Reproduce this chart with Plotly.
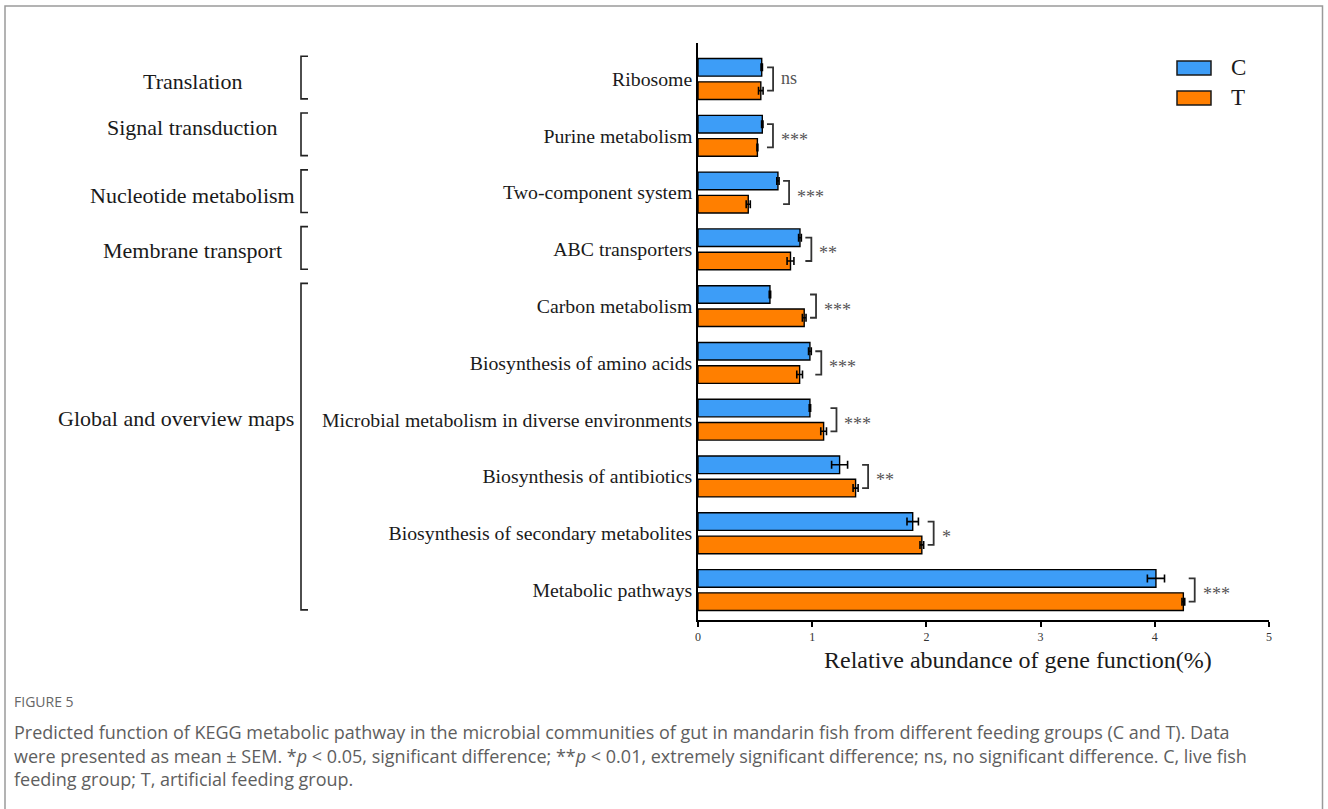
import plotly.graph_objects as go

# KEGG level-3 pathways, listed top to bottom
categories = [
    "Ribosome",
    "Purine metabolism",
    "Two-component system",
    "ABC transporters",
    "Carbon metabolism",
    "Biosynthesis of amino acids",
    "Microbial metabolism in diverse environments",
    "Biosynthesis of antibiotics",
    "Biosynthesis of secondary metabolites",
    "Metabolic pathways",
]
c_mean = [0.558, 0.563, 0.70, 0.893, 0.63, 0.98, 0.98, 1.24, 1.88, 4.01]
c_sem = [0.006, 0.006, 0.01, 0.012, 0.006, 0.012, 0.006, 0.07, 0.05, 0.075]
t_mean = [0.55, 0.52, 0.44, 0.81, 0.93, 0.89, 1.10, 1.38, 1.96, 4.25]
t_sem = [0.02, 0.004, 0.018, 0.03, 0.016, 0.025, 0.025, 0.022, 0.016, 0.012]
significance = ["ns", "***", "***", "**", "***", "***", "***", "**", "*", "***"]

# KEGG level-2 groups: (label, first pathway, last pathway, pathway the label sits beside)
groups = [
    ("Translation", "Ribosome", "Ribosome", "Ribosome"),
    ("Signal transduction", "Purine metabolism", "Purine metabolism", "Purine metabolism"),
    ("Nucleotide metabolism", "Two-component system", "Two-component system", "Two-component system"),
    ("Membrane transport", "ABC transporters", "ABC transporters", "ABC transporters"),
    ("Global and overview maps", "Carbon metabolism", "Metabolic pathways",
     "Microbial metabolism in diverse environments"),
]
group_label_shift = [-2, 8, -3, -1, 1]
tick_values = [0, 1, 2, 3, 4, 5]
legend_names = ["C", "T"]

BLUE = "#3d9df7"
ORANGE = "#ff7f00"
SERIF = "Liberation Serif, Times New Roman, serif"
SANS = "Open Sans, Lato, sans-serif"

W, H = 1328, 809
L, R, T, B = 698, 1269, 43, 620

n = len(categories)
ypos = {cat: n - 1 - i for i, cat in enumerate(categories)}
yvals = [ypos[c] for c in categories]


def px_x(px):
    return (px - L) / (R - L)


def px_y(py):
    return (B - py) / (B - T)


fig = go.Figure()
fig.add_trace(go.Bar(
    name="C", orientation="h", y=yvals, x=c_mean, width=0.31, offset=0.05,
    marker=dict(color=BLUE, line=dict(color="black", width=1.4)),
    error_x=dict(type="data", array=c_sem, visible=True, color="black", thickness=1.6, width=4),
    showlegend=False,
))
fig.add_trace(go.Bar(
    name="T", orientation="h", y=yvals, x=t_mean, width=0.31, offset=-0.36,
    marker=dict(color=ORANGE, line=dict(color="black", width=1.4)),
    error_x=dict(type="data", array=t_sem, visible=True, color="black", thickness=1.6, width=4),
    showlegend=False,
))

shapes = []
annotations = []

# significance brackets beside each pair of bars
for cat, cm, ce, tm, te, sig in zip(categories, c_mean, c_sem, t_mean, t_sem, significance):
    y = ypos[cat]
    edge = max(cm + ce, tm + te)
    shapes.append(dict(
        type="path", xref="x", yref="y", xsizemode="pixel", xanchor=edge,
        path=f"M 4,{y + 0.205} L 10,{y + 0.205} L 10,{y - 0.205} L 4,{y - 0.205}",
        line=dict(color="#333333", width=1.8),
    ))
    is_star = sig.startswith("*")
    annotations.append(dict(
        x=edge, y=y, xref="x", yref="y", xanchor="left", yanchor="middle",
        xshift=16, yshift=-4 if is_star else 1, text=sig, showarrow=False,
        font=dict(family=SERIF, size=18, color="#555555"),
    ))

# level-2 group brackets and labels on the left
for (label, first, last, beside), dy in zip(groups, group_label_shift):
    ytop = ypos[first] + 0.4
    ybot = ypos[last] - 0.35
    x0, x1 = px_x(301), px_x(308)
    shapes.append(dict(
        type="path", xref="paper", yref="y",
        path=f"M {x1},{ytop} L {x0},{ytop} L {x0},{ybot} L {x1},{ybot}",
        line=dict(color="#222222", width=1.6),
    ))
    if label == "Global and overview maps":
        ax, anchor = px_x(296), "right"
    else:
        ax, anchor = px_x(192), "center"
    annotations.append(dict(
        x=ax, y=ypos[beside], xref="paper", yref="y", xanchor=anchor, yanchor="middle",
        yshift=dy, text=label, showarrow=False,
        font=dict(family=SERIF, size=22, color="#1a1a1a"),
    ))

# legend
for name, color, cy in zip(legend_names, [BLUE, ORANGE], [68, 98]):
    shapes.append(dict(
        type="rect", xref="paper", yref="paper",
        x0=px_x(1177), x1=px_x(1211), y0=px_y(cy - 7), y1=px_y(cy + 7),
        fillcolor=color, line=dict(color="#1a1a1a", width=1.5),
    ))
    annotations.append(dict(
        x=px_x(1229), y=px_y(cy), xref="paper", yref="paper", xanchor="left", yanchor="middle",
        text=name, showarrow=False, font=dict(family=SERIF, size=23, color="#1a1a1a"),
    ))

# x-axis title
annotations.append(dict(
    x=px_x(1018), y=px_y(660), xref="paper", yref="paper", xanchor="center", yanchor="middle",
    text="Relative abundance of gene function(%)", showarrow=False,
    font=dict(family=SERIF, size=24, color="#1a1a1a"),
))

# caption
annotations.append(dict(
    x=px_x(12), y=px_y(701), xref="paper", yref="paper", xanchor="left", yanchor="middle",
    text="FIGURE 5", showarrow=False, font=dict(family=SANS, size=14, color="#666666"),
))
caption_lines = [
    "Predicted function of KEGG metabolic pathway in the microbial communities of gut in mandarin fish "
    "from different feeding groups (C and T). Data",
    "were presented as mean ± SEM. *<i>p</i> &lt; 0.05, significant difference; **<i>p</i> &lt; 0.01, "
    "extremely significant difference; ns, no significant difference. C, live fish",
    "feeding group; T, artificial feeding group.",
]
for line, cy in zip(caption_lines, [732, 756, 779]):
    annotations.append(dict(
        x=px_x(12), y=px_y(cy), xref="paper", yref="paper", xanchor="left", yanchor="middle",
        text=line, showarrow=False, font=dict(family=SANS, size=18, color="#5e5e5e"),
    ))

# outer frame
shapes.append(dict(
    type="rect", xref="paper", yref="paper",
    x0=px_x(5), x1=px_x(1322.5), y0=px_y(830), y1=px_y(6),
    line=dict(color="#9a9a9a", width=1.5), fillcolor="rgba(0,0,0,0)", layer="below",
))

fig.update_layout(
    width=W, height=H,
    margin=dict(l=L, r=W - R, t=T, b=H - B, pad=0),
    paper_bgcolor="white", plot_bgcolor="white",
    barmode="overlay",
    showlegend=False,
    shapes=shapes,
    annotations=annotations,
    xaxis=dict(
        range=[0, 5], tickvals=tick_values, ticks="outside", ticklen=5, tickwidth=1.5,
        tickcolor="black", showline=True, linecolor="black", linewidth=1.5,
        showgrid=False, zeroline=False,
        tickfont=dict(family=SERIF, size=12, color="#333333"),
    ),
    yaxis=dict(
        range=[-0.528, 9.634], tickvals=yvals, ticktext=categories, ticks="",
        showline=True, linecolor="black", linewidth=1.5, showgrid=False, zeroline=False,
        tickfont=dict(family=SERIF, size=19.8, color="#1a1a1a"),
    ),
)

fig.write_html("out.html")
